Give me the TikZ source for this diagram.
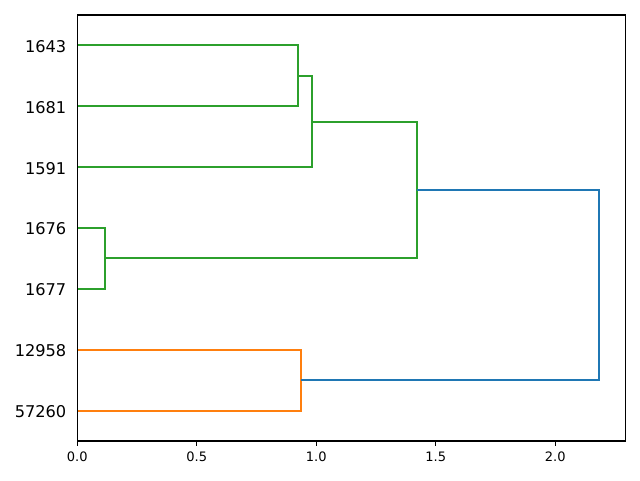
\documentclass[tikz,border=0pt]{standalone}
\usepackage{fontspec}
\setmainfont{DejaVu Sans}
\definecolor{mgreen}{HTML}{2CA02C}
\definecolor{morange}{HTML}{FF7F0E}
\definecolor{mblue}{HTML}{1F77B4}
\tikzset{
  link/.style={line width=2pt},
  axisline/.style={line width=1.1pt, line cap=rect},
  leaflab/.style={anchor=east, inner sep=0pt, font=\fontsize{16.2}{17}\selectfont},
  ticklab/.style={anchor=north, inner sep=0pt, font=\fontsize{13}{14}\selectfont},
}
\begin{document}
\begin{tikzpicture}[x=1pt,y=-1pt]
\useasboundingbox (0,0) rectangle (640,480);
% leaves
\foreach \n/\t/\y in {l1/1643/45.4, l2/1681/106.3, l3/1591/167.1, l4/1676/228.0, l5/1677/288.9, l6/12958/349.7, l7/57260/410.6}{
  \coordinate (\n) at (77.3,\y);
  \node[leaflab] (lab\n) at (66.5,\y+1) {\t};
}
% joints
\coordinate (a1) at (298,45.4);  \coordinate (a2) at (298,106.3); \coordinate (am) at (298,75.9);
\coordinate (b1) at (312,75.9);  \coordinate (b2) at (312,167.1); \coordinate (bm) at (312,121.5);
\coordinate (c1) at (105,228.0); \coordinate (c2) at (105,288.9); \coordinate (cm) at (105,258.4);
\coordinate (d1) at (417,121.5); \coordinate (d2) at (417,258.4); \coordinate (dm) at (417,190);
\coordinate (e1) at (301,349.7); \coordinate (e2) at (301,410.6); \coordinate (em) at (301,380.2);
\coordinate (f1) at (599,190);   \coordinate (f2) at (599,380.2);
% links
\draw[link, mgreen] (l1) -- (a1) -- (a2) -- (l2);
\draw[link, mgreen] (am) -- (b1) -- (b2) -- (l3);
\draw[link, mgreen] (l4) -- (c1) -- (c2) -- (l5);
\draw[link, mgreen] (bm) -- (d1) -- (d2) -- (cm);
\draw[link, morange] (l6) -- (e1) -- (e2) -- (l7);
\draw[link, mblue] (dm) -- (f1) -- (f2) -- (em);
% axes box
\draw[axisline] (77.3,15) rectangle (625.3,441);
% x ticks
\foreach \v/\x in {0.0/77.3, 0.5/196.8, 1.0/316.3, 1.5/435.8, 2.0/555.3}{
  \draw[line width=1.1pt] (\x,441) -- (\x,445.9);
  \node[ticklab] at (\x,452) {\v};
}
\end{tikzpicture}
\end{document}
